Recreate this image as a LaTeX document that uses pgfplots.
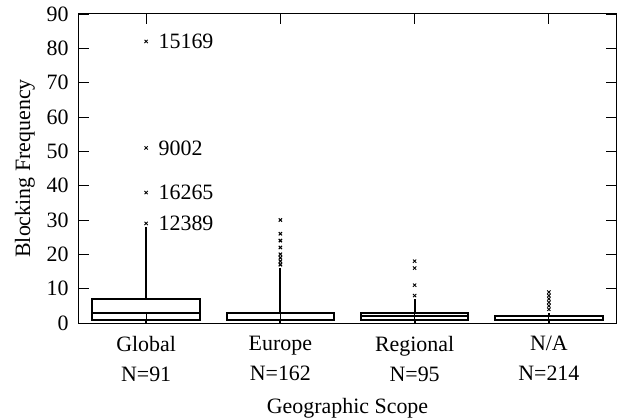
\documentclass[border=0pt]{standalone}
\usepackage{fontspec}
\setmainfont{Liberation Serif}
\usepackage{pgfplots}
\pgfplotsset{compat=1.18}
\usepgfplotslibrary{statistics}
\begin{document}
\fontsize{22}{30}\selectfont
\begin{tikzpicture}
\begin{axis}[
  scale only axis, width=537bp, height=309bp,
  xmin=0.5, xmax=4.5, ymin=0, ymax=90,
  xtick={1,2,3,4},
  xticklabels={{Global\\N=91},{Europe\\N=162},{Regional\\N=95},{N/A\\N=214}},
  xticklabel style={align=center, yshift=-6bp, font=\fontsize{22}{30}\selectfont},
  yticklabel style={xshift=-3bp, font=\fontsize{22}{25}\selectfont},
  ytick={0,10,...,90},
  tick align=inside, major tick length=10bp,
  tick style={black, line width=0.8bp},
  axis line style={line width=1bp},
  /pgf/number format/assume math mode=true,
  ylabel={Blocking Frequency},
  ylabel style={at={(rel axis cs:0,0.5)}, anchor=center, rotate=0, yshift=54bp, font=\fontsize{22}{25}\selectfont},
  xlabel={Geographic Scope},
  xlabel style={at={(rel axis cs:0.5,0)}, anchor=base, yshift=-90bp, font=\fontsize{22}{25}\selectfont},
  boxplot/draw direction=y,
]
\addplot[black, line width=2.1bp, mark=x, mark size=2.3bp, mark options={line width=0.9bp, solid},
  boxplot prepared={draw position=1, lower whisker=0, lower quartile=1, median=3,
    upper quartile=7, upper whisker=28, box extend=0.8, whisker extend=0}]
  table[row sep=\\, y index=0] {29\\38\\51\\82\\};
\addplot[black, line width=2.1bp, mark=x, mark size=2.3bp, mark options={line width=1.1bp, solid},
  boxplot prepared={draw position=2, lower whisker=0, lower quartile=1, median=1,
    upper quartile=3, upper whisker=16, box extend=0.8, whisker extend=0}]
  table[row sep=\\, y index=0] {30\\26\\24\\22\\20\\19\\18\\17\\};
\addplot[black, line width=2.1bp, mark=x, mark size=2.3bp, mark options={line width=0.9bp, solid},
  boxplot prepared={draw position=3, lower whisker=0, lower quartile=1, median=2,
    upper quartile=3, upper whisker=7, box extend=0.8, whisker extend=0}]
  table[row sep=\\, y index=0] {18\\16\\11\\8\\};
\addplot[black, line width=2.1bp, mark=x, mark size=2.3bp, mark options={line width=0.9bp, solid},
  boxplot prepared={draw position=4, lower whisker=0, lower quartile=1, median=1,
    upper quartile=2, upper whisker=3, box extend=0.8, whisker extend=0}]
  table[row sep=\\, y index=0] {9\\8\\7\\6\\5\\4\\};
\addplot[only marks, mark=none, nodes near coords, point meta=explicit symbolic,
  nodes near coords style={anchor=west, xshift=5bp, font=\fontsize{22}{25}\selectfont}]
  table[meta=label] {
x y label
1 82 15169
1 51 9002
1 38 16265
1 29 12389
};
\end{axis}
\pgfresetboundingbox
\path[use as bounding box] ([shift={(-79bp,-97bp)}]current axis.south west) rectangle ([shift={(5bp,14bp)}]current axis.north east);
\end{tikzpicture}
\end{document}
